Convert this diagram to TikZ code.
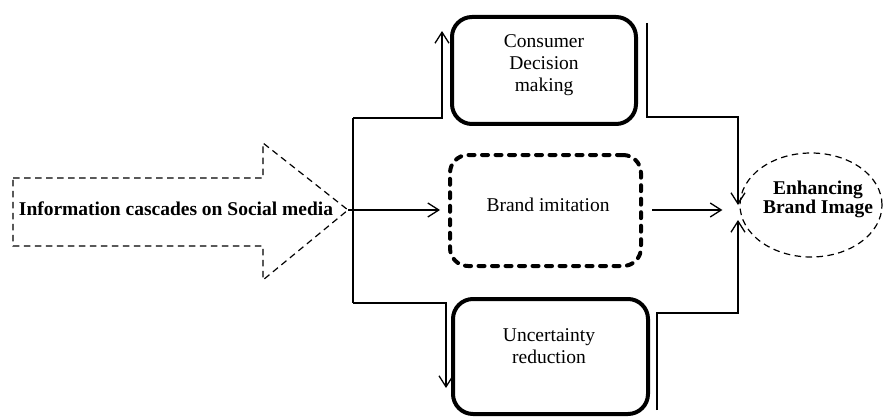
\documentclass[tikz,border=0pt]{standalone}
\usepackage{fontspec}
\setmainfont{Liberation Serif}
\usetikzlibrary{arrows.meta,shapes.geometric}
\begin{document}
\begin{tikzpicture}[x=1pt,y=-1pt,
  every node/.style={font=\fontsize{19.5}{22}\selectfont, inner sep=0pt},
  wire/.style={line width=1.3pt},
  conn/.style={line width=1.3pt, -{Straight Barb[length=11pt,width=14pt]}},
  solidbox/.style={draw, line width=4pt, rounded corners=20pt},
  dashbox/.style={draw, line width=4pt, rounded corners=18pt, line cap=round, dash pattern=on 6pt off 7.5pt},
  thindash/.style={draw, line width=1.2pt, dash pattern=on 6.5pt off 4.5pt},
  txt/.style={align=center}]
\useasboundingbox (0,0) rectangle (883,417);

% boxes
\node[solidbox, minimum width=184pt, minimum height=107pt] (cdm) at (544,70.5) {};
\node[txt] (cdmt) at (544,65.5) {Consumer\\Decision\\making};
\node[dashbox, minimum width=191pt, minimum height=111pt] (bim) at (545.5,210.5) {};
\node[txt] (bimt) at (548,204.5) {Brand imitation};
\node[solidbox, minimum width=195pt, minimum height=115pt] (unc) at (550.5,356.5) {};
\node[txt] (unct) at (549,346.5) {Uncertainty\\reduction};

% ellipse
\node[thindash, ellipse, minimum width=142pt, minimum height=104pt] (ebi) at (811,205) {};
\node[txt, font=\fontsize{19.5}{18.5}\selectfont\bfseries] (ebit) at (818,199.5) {Enhancing\\Brand Image};

% big arrow
\coordinate (atip) at (348,210);
\draw[thindash] (13,178) -- (263,178) -- (263,143) -- (atip) -- (263,280) -- (263,246) -- (13,246) -- cycle;
\node[font=\fontsize{19.5}{22}\selectfont\bfseries] (info) at (176,209) {Information cascades on Social media};

% trunk
\coordinate (tt) at (353,118);
\coordinate (tb) at (353,303);
\coordinate (upt) at (442,31);
\coordinate (dnt) at (446,388);
\draw[wire] (tt) -- (tb);
\draw[conn] (tt) -| (upt);
\draw[conn] (tb) -| (dnt);
\draw[conn, shorten >=8pt] (atip) -- (bim.west |- atip);

% right side
\coordinate (rt) at (647,23);
\coordinate (rb) at (657,410);
\coordinate (etop) at (738,205);
\coordinate (ebot) at (738,220);
\coordinate (mid) at (bim.east |- atip);
\draw[conn] (rt) -- (647,117) -| (etop);
\draw[conn] (rb) -- (657,313) -| (ebot);
\draw[conn, shorten <=9pt, shorten >=17pt] (mid) -- (ebi.west |- mid);
\end{tikzpicture}
\end{document}
